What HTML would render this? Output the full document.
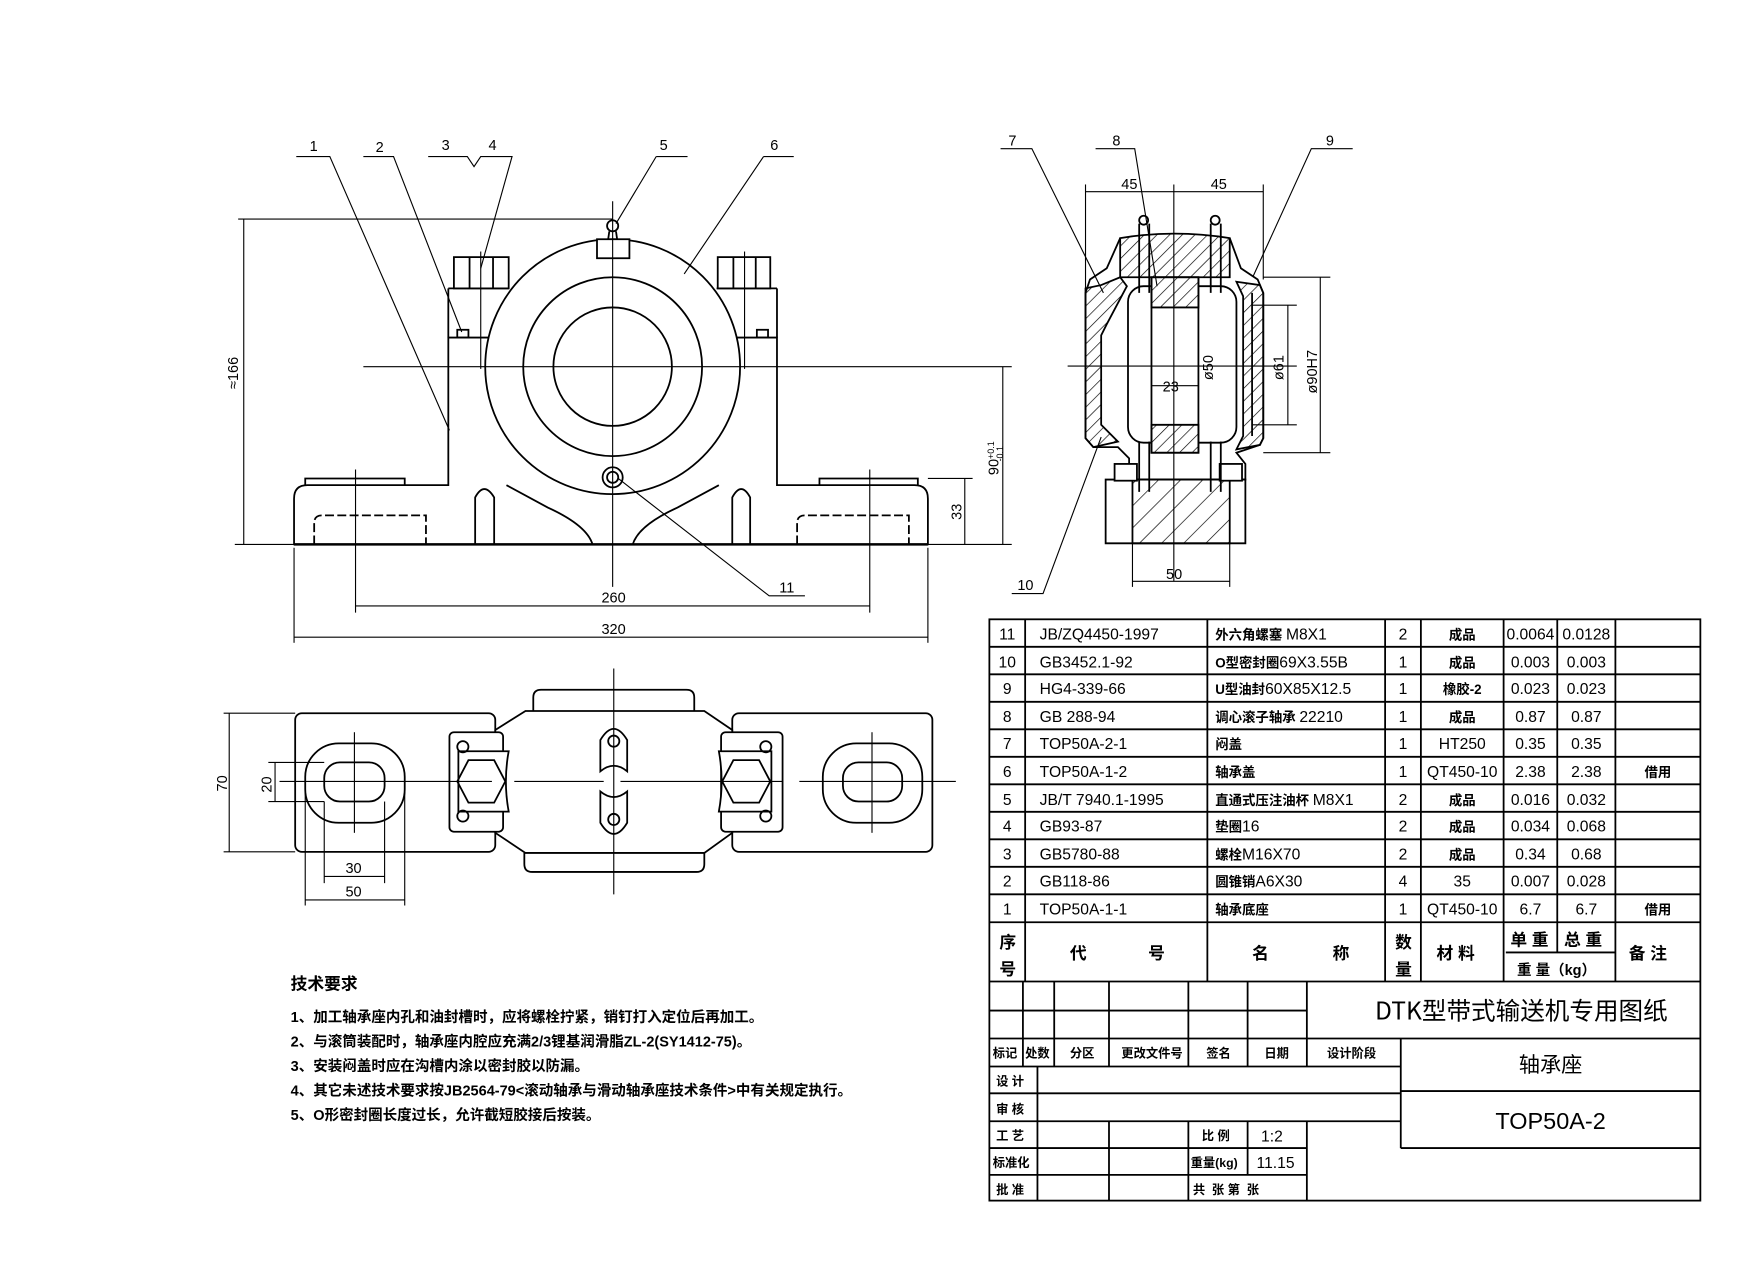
<!DOCTYPE html>
<html><head><meta charset="utf-8"><style>
html,body{margin:0;padding:0;background:#fff;}
svg{display:block;}
text{font-family:"Liberation Sans","Noto Sans CJK SC",sans-serif;fill:#000;}
.c{font-family:"Noto Sans CJK SC","WenQuanYi Zen Hei",sans-serif;font-weight:bold;}
</style></head><body>
<svg width="1744" height="1264" viewBox="0 0 1560 1130.7" xmlns="http://www.w3.org/2000/svg">
<defs>
<pattern id="h" width="8" height="8" patternUnits="userSpaceOnUse" patternTransform="rotate(45)"><line x1="0" y1="0" x2="0" y2="8" stroke="#000" stroke-width="1.2"/></pattern>
<pattern id="h2" width="14" height="14" patternUnits="userSpaceOnUse" patternTransform="rotate(45)"><line x1="0" y1="0" x2="0" y2="14" stroke="#000" stroke-width="1.2"/></pattern>
</defs>
<g fill="none" stroke="#000" stroke-width="1.6">
<!-- FRONT VIEW -->
<path d="M263,487 V446 Q263,434 275,434 H401 V302 H695 V434 H818 Q830,434 830,446 V487 Z"/>
<path d="M273,434 V428 H362 V434 M733,434 V428 H821 V434"/>
<line x1="401" y1="258" x2="455" y2="258"/><line x1="401" y1="258" x2="401" y2="302"/>
<line x1="641" y1="258" x2="695" y2="258"/><line x1="695" y1="258" x2="695" y2="302"/>
<rect x="406" y="230" width="49" height="28"/><line x1="420" y1="230" x2="420" y2="258"/><line x1="441" y1="230" x2="441" y2="258"/>
<rect x="642" y="230" width="47" height="28"/><line x1="656" y1="230" x2="656" y2="258"/><line x1="676" y1="230" x2="676" y2="258"/>
<line x1="401" y1="302" x2="455" y2="302"/><line x1="641" y1="302" x2="695" y2="302"/>
<rect x="409" y="295" width="10" height="7"/><rect x="677" y="295" width="10" height="7"/>
<path d="M425,487 V445 Q433,430 442,445 V487"/><path d="M655,487 V445 Q663,430 671,445 V487"/>
<path d="M281,487 V468 Q281,461 288,461 H381 V487" stroke-dasharray="8,3"/>
<path d="M713,487 V468 Q713,461 720,461 H813 V487" stroke-dasharray="8,3"/>
<circle cx="548" cy="328" r="114" fill="#fff"/>
<path d="M453,434 L490,454 Q525,470 530,487" />
<path d="M643,434 L606,454 Q571,470 566,487" />
<circle cx="548" cy="328" r="80"/>
<circle cx="548" cy="328" r="53"/>
<rect x="534" y="214" width="29" height="17" fill="#fff"/>
<circle cx="548" cy="202" r="5"/><path d="M545,207 L544,214 M551,207 L552,214"/>
<circle cx="548" cy="427" r="9" fill="#fff"/><circle cx="548" cy="427" r="5"/>
<line x1="263" y1="487" x2="830" y2="487" stroke-width="2.2"/>
</g>
<g stroke="#000" stroke-width="1" fill="none">
<line x1="325" y1="328" x2="905" y2="328"/>
<line x1="548" y1="180" x2="548" y2="525"/>
<line x1="430" y1="225" x2="430" y2="330"/><line x1="666" y1="225" x2="666" y2="330"/>
<line x1="318" y1="420" x2="318" y2="548"/><line x1="778" y1="420" x2="778" y2="548"/>
<line x1="263" y1="490" x2="263" y2="575"/><line x1="830" y1="490" x2="830" y2="575"/>
<line x1="318" y1="542" x2="778" y2="542"/><line x1="263" y1="570" x2="830" y2="570"/>
<line x1="213" y1="196" x2="548" y2="196"/><line x1="210" y1="487" x2="263" y2="487"/>
<line x1="218" y1="196" x2="218" y2="487"/>
<line x1="830" y1="487" x2="905" y2="487"/><line x1="830" y1="428" x2="870" y2="428"/>
<line x1="863" y1="428" x2="863" y2="487"/><line x1="897" y1="328" x2="897" y2="487"/>
<path d="M265,140 H295 L402,385"/><path d="M325,140 H352 L413,297"/>
<path d="M383,140 H418 L424,149 L430,140 H458 L430,240"/>
<path d="M587,140 H615 M587,140 L551,200"/><path d="M683,140 H710 M683,140 L612,245"/>
<path d="M720,533 H688 L553,428"/>
</g>
<g font-size="13">
<text x="277" y="135">1</text><text x="336" y="136">2</text><text x="395" y="134">3</text><text x="437" y="134">4</text>
<text x="590" y="134">5</text><text x="689" y="134">6</text><text x="697" y="530">11</text>
<text x="538" y="539">260</text><text x="538" y="567">320</text>
<text transform="translate(213,348) rotate(-90)">≈166</text>
<text transform="translate(860,465) rotate(-90)">33</text>
<text transform="translate(893,425) rotate(-90)">90<tspan font-size="8" dy="-4">+0.1</tspan><tspan font-size="8" dx="-18" dy="8">-0.1</tspan></text>
</g>

<!-- SIDE VIEW -->
<g stroke="#000" stroke-width="1.6">
<path d="M1002,213 Q1050,205 1100,213 V248 H1002 Z" fill="url(#h)"/>
<path d="M1002,213 L990,240 L975,250 L971,262 V392 L978,400 H1000 L1010,410 L1010,420 L1002,429 H1114 V415 L1106,405 L1127,398 L1130,392 V262 L1125,250 L1110,240 L1100,213" fill="none"/>
<path d="M971,258 L985,255 L1002,248 L1008,256 L990,290 L985,300 V380 L1000,395 L978,400 L971,392 Z" fill="url(#h)"/>
<rect x="1009" y="256" width="97" height="140" rx="14" fill="#fff"/>
<rect x="1030" y="248" width="42" height="157" fill="#fff"/>
<path d="M1030,248 H1072 V275 H1030 Z" fill="url(#h)"/>
<path d="M1030,380 H1072 V405 H1030 Z" fill="url(#h)"/>
<path d="M1106,252 L1127,255 L1130,262 V392 L1127,398 L1106,402 L1112,390 V265 Z" fill="url(#h)"/>
<line x1="1120" y1="262" x2="1120" y2="390"/>
<path d="M989,429 H1114 V486 H989 Z" fill="#fff"/>
<path d="M1013,429 H1100 V486 H1013 Z" fill="url(#h2)"/>
<rect x="997" y="415" width="20" height="15" fill="#fff"/><rect x="1091" y="415" width="20" height="15" fill="#fff"/>
<line x1="1019" y1="200" x2="1019" y2="262"/><line x1="1028" y1="200" x2="1028" y2="262"/>
<line x1="1083" y1="200" x2="1083" y2="262"/><line x1="1092" y1="200" x2="1092" y2="262"/>
<circle cx="1023" cy="197" r="4" fill="#fff"/><circle cx="1087" cy="197" r="4" fill="#fff"/>
<line x1="1019" y1="395" x2="1019" y2="440"/><line x1="1028" y1="395" x2="1028" y2="440"/>
<line x1="1083" y1="395" x2="1083" y2="440"/><line x1="1092" y1="395" x2="1092" y2="440"/>
</g>
<g stroke="#000" stroke-width="1" fill="none">
<line x1="1050" y1="165" x2="1050" y2="520"/><line x1="955" y1="327.5" x2="1160" y2="327.5"/>
<line x1="971" y1="165" x2="971" y2="260"/><line x1="1130" y1="165" x2="1130" y2="250"/>
<line x1="971" y1="171.5" x2="1130" y2="171.5"/>
<line x1="1130" y1="248" x2="1190" y2="248"/><line x1="1130" y1="405" x2="1190" y2="405"/>
<line x1="1181" y1="248" x2="1181" y2="405"/>
<line x1="1120" y1="273" x2="1160" y2="273"/><line x1="1120" y1="380" x2="1160" y2="380"/>
<line x1="1152" y1="273" x2="1152" y2="380"/>
<line x1="1030" y1="345" x2="1072" y2="345"/>
<line x1="1013" y1="486" x2="1013" y2="525"/><line x1="1100" y1="486" x2="1100" y2="525"/>
<line x1="1013" y1="520" x2="1100" y2="520"/>
<path d="M895,133 H923 L987,262"/><path d="M980,133 H1015 L1035,256"/>
<path d="M1210,133 H1173 L1121,247"/><path d="M905,531 H933 L985,391"/>
</g>
<g font-size="13">
<text x="902" y="130">7</text><text x="995" y="130">8</text><text x="1186" y="130">9</text><text x="910" y="528">10</text>
<text x="1003" y="169">45</text><text x="1083" y="169">45</text>
<text x="1040" y="350">23</text><text x="1043" y="518">50</text>
<text transform="translate(1085,340) rotate(-90)">ø50</text>
<text transform="translate(1148,340) rotate(-90)">ø61</text>
<text transform="translate(1178,352) rotate(-90)">ø90H7</text>
</g>

<!-- PLAN VIEW -->
<g stroke="#000" stroke-width="1.6" fill="none">
<rect x="264" y="638" width="179" height="124" rx="6"/>
<rect x="655" y="638" width="179" height="124" rx="6"/>
<path d="M443,653 L470,636 H630 L655,653 V745 L630,763 H470 L443,745 Z" fill="#fff"/>
<path d="M477,636 V624 Q477,617 484,617 H614 Q621,617 621,624 V636"/>
<path d="M469,763 V773 Q469,780 476,780 H623 Q630,780 630,773 V763"/>
<rect x="273" y="665" width="89" height="71" rx="30"/>
<rect x="290" y="682" width="54" height="35" rx="14"/>
<rect x="736" y="665" width="89" height="71" rx="30"/>
<rect x="754" y="682" width="53" height="35" rx="14"/>
<rect x="402" y="655" width="48" height="89" rx="4" fill="#fff"/>
<rect x="645" y="655" width="55" height="89" rx="4" fill="#fff"/>
<path d="M410,672 H455 Q450,699 455,726 H410 Z" fill="#fff"/>
<path d="M690,672 H643 Q648,699 643,726 H690 Z" fill="#fff"/>
<polygon points="409,699 419,680 442,680 452,699 442,718 419,718"/>
<polygon points="646,699 656,680 679,680 689,699 679,718 656,718"/>
<circle cx="414" cy="668" r="5"/><circle cx="414" cy="730" r="5"/>
<circle cx="685" cy="668" r="5"/><circle cx="685" cy="730" r="5"/>
<path d="M537,690 V662 Q549,642 561,662 V690 Q549,680 537,690 Z"/>
<path d="M537,708 V736 Q549,756 561,736 V708 Q549,718 537,708 Z"/>
<circle cx="549" cy="663" r="5"/><circle cx="549" cy="733" r="5"/>
</g>
<g stroke="#000" stroke-width="1" fill="none">
<line x1="549" y1="598" x2="549" y2="800"/>
<path d="M250,699 H440 M460,699 H540 M555,699 H700 M715,699 H855"/>
<line x1="317" y1="655" x2="317" y2="745"/><line x1="780" y1="655" x2="780" y2="745"/>
<line x1="200" y1="638" x2="264" y2="638"/><line x1="200" y1="762" x2="264" y2="762"/>
<line x1="205" y1="638" x2="205" y2="762"/>
<line x1="240" y1="682" x2="290" y2="682"/><line x1="240" y1="717" x2="290" y2="717"/>
<line x1="246" y1="682" x2="246" y2="717"/>
<line x1="290" y1="717" x2="290" y2="790"/><line x1="344" y1="717" x2="344" y2="790"/>
<line x1="273" y1="700" x2="273" y2="810"/><line x1="362" y1="700" x2="362" y2="810"/>
<line x1="290" y1="784" x2="344" y2="784"/><line x1="273" y1="805" x2="362" y2="805"/>
</g>
<g font-size="13">
<text transform="translate(203,708) rotate(-90)">70</text>
<text transform="translate(243,709) rotate(-90)">20</text>
<text x="309" y="781">30</text><text x="309" y="802">50</text>
</g>

<!-- NOTES -->
<g class="c" font-size="13">
<text x="260" y="885" font-size="15">技术要求</text>
<text x="260" y="914">1、加工轴承座内孔和油封槽时，应将螺栓拧紧，销钉打入定位后再加工。</text>
<text x="260" y="936">2、与滚筒装配时，轴承座内腔应充满2/3锂基润滑脂ZL-2(SY1412-75)。</text>
<text x="260" y="958">3、安装闷盖时应在沟槽内涂以密封胶以防漏。</text>
<text x="260" y="980">4、其它未述技术要求按JB2564-79&lt;滚动轴承与滑动轴承座技术条件&gt;中有关规定执行。</text>
<text x="260" y="1002">5、O形密封圈长度过长，允许截短胶接后按装。</text>
</g>

<!-- TABLE -->
<g transform="translate(-3,0)">
<g stroke="#000" stroke-width="1.6" fill="none">
<rect x="888" y="554" width="636" height="520"/>
<line x1="888" y1="578.6" x2="1524" y2="578.6"/><line x1="888" y1="603.2" x2="1524" y2="603.2"/>
<line x1="888" y1="627.8" x2="1524" y2="627.8"/><line x1="888" y1="652.4" x2="1524" y2="652.4"/>
<line x1="888" y1="677" x2="1524" y2="677"/><line x1="888" y1="701.6" x2="1524" y2="701.6"/>
<line x1="888" y1="726.2" x2="1524" y2="726.2"/><line x1="888" y1="750.8" x2="1524" y2="750.8"/>
<line x1="888" y1="775.4" x2="1524" y2="775.4"/><line x1="888" y1="800" x2="1524" y2="800"/>
<line x1="888" y1="825" x2="1524" y2="825"/><line x1="888" y1="878" x2="1524" y2="878"/>
<line x1="1350" y1="852" x2="1448" y2="852"/>
<line x1="920" y1="554" x2="920" y2="878"/><line x1="1083" y1="554" x2="1083" y2="878"/>
<line x1="1242" y1="554" x2="1242" y2="878"/><line x1="1274" y1="554" x2="1274" y2="878"/>
<line x1="1348" y1="554" x2="1348" y2="878"/><line x1="1396" y1="554" x2="1396" y2="852"/>
<line x1="1448" y1="554" x2="1448" y2="878"/>
<line x1="888" y1="904" x2="1172" y2="904"/><line x1="888" y1="929" x2="1524" y2="929"/>
<line x1="888" y1="954" x2="1256" y2="954"/><line x1="888" y1="978" x2="1256" y2="978"/>
<line x1="1256" y1="976" x2="1524" y2="976"/>
<line x1="888" y1="1003" x2="1256" y2="1003"/><line x1="1256" y1="1027" x2="1524" y2="1027"/>
<line x1="888" y1="1027" x2="1172" y2="1027"/><line x1="888" y1="1051" x2="1172" y2="1051"/>
<line x1="918" y1="878" x2="918" y2="954"/><line x1="946" y1="878" x2="946" y2="954"/>
<line x1="995" y1="878" x2="995" y2="954"/><line x1="1066" y1="878" x2="1066" y2="954"/>
<line x1="1119" y1="878" x2="1119" y2="954"/><line x1="1172" y1="878" x2="1172" y2="954"/>
<line x1="1256" y1="929" x2="1256" y2="1027"/>
<line x1="931" y1="954" x2="931" y2="1074"/>
<line x1="995" y1="1003" x2="995" y2="1074"/><line x1="1066" y1="1003" x2="1066" y2="1074"/>
<line x1="1119" y1="1003" x2="1119" y2="1051"/><line x1="1172" y1="1003" x2="1172" y2="1074"/>
</g>
<g font-size="14">
<g text-anchor="middle">
<text x="904" y="572">11</text><text x="904" y="597">10</text><text x="904" y="621">9</text><text x="904" y="646">8</text>
<text x="904" y="670">7</text><text x="904" y="695">6</text><text x="904" y="720">5</text><text x="904" y="744">4</text>
<text x="904" y="769">3</text><text x="904" y="793">2</text><text x="904" y="818">1</text>
<text x="1258" y="572">2</text><text x="1258" y="597">1</text><text x="1258" y="621">1</text><text x="1258" y="646">1</text>
<text x="1258" y="670">1</text><text x="1258" y="695">1</text><text x="1258" y="720">2</text><text x="1258" y="744">2</text>
<text x="1258" y="769">2</text><text x="1258" y="793">4</text><text x="1258" y="818">1</text>
<g class="c" font-size="12"><text x="1311" y="572">成品</text><text x="1311" y="597">成品</text><text x="1311" y="621">橡胶-2</text><text x="1311" y="646">成品</text>
<text x="1311" y="720">成品</text><text x="1311" y="744">成品</text><text x="1311" y="769">成品</text></g>
<text x="1311" y="670">HT250</text><text x="1311" y="695">QT450-10</text><text x="1311" y="793">35</text><text x="1311" y="818">QT450-10</text>
<text x="1372" y="572">0.0064</text><text x="1372" y="597">0.003</text><text x="1372" y="621">0.023</text><text x="1372" y="646">0.87</text>
<text x="1372" y="670">0.35</text><text x="1372" y="695">2.38</text><text x="1372" y="720">0.016</text><text x="1372" y="744">0.034</text>
<text x="1372" y="769">0.34</text><text x="1372" y="793">0.007</text><text x="1372" y="818">6.7</text>
<text x="1422" y="572">0.0128</text><text x="1422" y="597">0.003</text><text x="1422" y="621">0.023</text><text x="1422" y="646">0.87</text>
<text x="1422" y="670">0.35</text><text x="1422" y="695">2.38</text><text x="1422" y="720">0.032</text><text x="1422" y="744">0.068</text>
<text x="1422" y="769">0.68</text><text x="1422" y="793">0.028</text><text x="1422" y="818">6.7</text>
<g class="c" font-size="12"><text x="1486" y="695">借用</text><text x="1486" y="818">借用</text></g>
</g>
<text x="933" y="572">JB/ZQ4450-1997</text><text x="933" y="597">GB3452.1-92</text><text x="933" y="621">HG4-339-66</text>
<text x="933" y="646">GB 288-94</text><text x="933" y="670">TOP50A-2-1</text><text x="933" y="695">TOP50A-1-2</text>
<text x="933" y="720">JB/T 7940.1-1995</text><text x="933" y="744">GB93-87</text><text x="933" y="769">GB5780-88</text>
<text x="933" y="793">GB118-86</text><text x="933" y="818">TOP50A-1-1</text>
<g class="c" font-size="12">
<text x="1090" y="572">外六角螺塞 <tspan font-weight="normal" font-family="Liberation Sans" font-size="14">M8X1</tspan></text>
<text x="1090" y="597">O型密封圈<tspan font-weight="normal" font-family="Liberation Sans" font-size="14">69X3.55B</tspan></text>
<text x="1090" y="621">U型油封<tspan font-weight="normal" font-family="Liberation Sans" font-size="14">60X85X12.5</tspan></text>
<text x="1090" y="646">调心滚子轴承 <tspan font-weight="normal" font-family="Liberation Sans" font-size="14">22210</tspan></text>
<text x="1090" y="670">闷盖</text><text x="1090" y="695">轴承盖</text>
<text x="1090" y="720">直通式压注油杯 <tspan font-weight="normal" font-family="Liberation Sans" font-size="14">M8X1</tspan></text>
<text x="1090" y="744">垫圈<tspan font-weight="normal" font-family="Liberation Sans" font-size="14">16</tspan></text>
<text x="1090" y="769">螺栓<tspan font-weight="normal" font-family="Liberation Sans" font-size="14">M16X70</tspan></text>
<text x="1090" y="793">圆锥销<tspan font-weight="normal" font-family="Liberation Sans" font-size="14">A6X30</tspan></text>
<text x="1090" y="818">轴承底座</text>
</g>
<g class="c" font-size="15">
<text x="897" y="848">序</text><text x="897" y="872">号</text>
<text x="960" y="858">代</text><text x="1030" y="858">号</text>
<text x="1123" y="858">名</text><text x="1195" y="858">称</text>
<text x="1251" y="848">数</text><text x="1251" y="872">量</text>
<text x="1288" y="858">材 料</text>
<text x="1354" y="846">单 重</text><text x="1402" y="846">总 重</text>
<text x="1360" y="872" font-size="13">重 量（kg）</text>
<text x="1460" y="858">备 注</text>
</g>
<text x="1233" y="912" font-size="22" class="c" style="font-weight:normal">DTK型带式输送机专用图纸</text>
<text x="1390" y="959" font-size="19" class="c" style="font-weight:normal" text-anchor="middle">轴承座</text>
<text x="1390" y="1010" font-size="21" text-anchor="middle">TOP50A-2</text>
<g class="c" font-size="11">
<text x="891" y="946">标记</text><text x="920" y="946">处数</text><text x="960" y="946">分区</text><text x="1006" y="946">更改文件号</text>
<text x="1082" y="946">签名</text><text x="1134" y="946">日期</text><text x="1190" y="946">设计阶段</text>
<text x="894" y="971">设 计</text><text x="894" y="996">审 核</text><text x="894" y="1020">工 艺</text>
<text x="891" y="1044">标准化</text><text x="894" y="1068">批 准</text>
<text x="1078" y="1020">比 例</text><text x="1068" y="1044">重量(kg)</text><text x="1070" y="1068">共 &#160;张 第 &#160;张</text>
</g>
<text x="1131" y="1021">1:2</text><text x="1127" y="1045">11.15</text>
</g>
</g>
</svg>
</body></html>
